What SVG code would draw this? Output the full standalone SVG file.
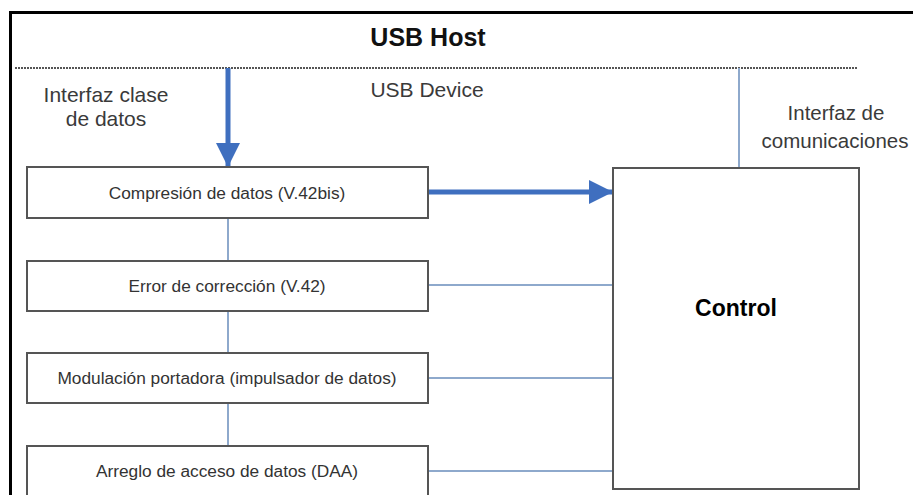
<svg xmlns="http://www.w3.org/2000/svg" width="913" height="495" viewBox="0 0 913 495">
  <style>
    .lbl { font-family: "Liberation Sans", Arial, sans-serif; fill: #3a3a3a; text-anchor: middle; }
    .box { fill: #ffffff; stroke: #555555; stroke-width: 2; }
    .boxtxt { font-family: "Liberation Sans", Arial, sans-serif; font-size: 17.3px; fill: #333333; text-anchor: middle; }
    .thin { stroke: #8ea9cc; stroke-width: 2; fill: none; }
    .thick { stroke: #3f6fbf; stroke-width: 5; fill: none; }
  </style>
  <defs>
    <marker id="bigArrow" viewBox="0 0 10 10" refX="10" refY="5" markerUnits="userSpaceOnUse" markerWidth="38" markerHeight="24" orient="auto">
      <path d="M0,0 L10,5 L0,10 Z" fill="#3f6fbf"/>
    </marker>
  </defs>

  <rect x="0" y="0" width="913" height="495" fill="#ffffff"/>
  <!-- outer frame (open to the right and bottom) -->
  <rect x="10.5" y="12.5" width="920" height="500" fill="none" stroke="#000000" stroke-width="3"/>

  <!-- host / device boundary -->
  <line x1="15" y1="68" x2="858" y2="68" stroke="#555555" stroke-width="2" stroke-dasharray="2 1"/>

  <text class="lbl" x="428" y="46" font-size="25" font-weight="bold" style="fill:#111111">USB Host</text>
  <text class="lbl" x="427" y="97" font-size="21">USB Device</text>
  <text class="lbl" x="106" y="102" font-size="21">Interfaz clase</text>
  <text class="lbl" x="106" y="126" font-size="21">de datos</text>
  <text class="lbl" x="836" y="120" font-size="20.5">Interfaz de</text>
  <text class="lbl" x="835" y="148" font-size="20.5">comunicaciones</text>

  <g id="connectors">
    <line class="thin" x1="228" y1="218" x2="228" y2="261"/>
    <line class="thin" x1="228" y1="311" x2="228" y2="353"/>
    <line class="thin" x1="228" y1="403" x2="228" y2="446"/>
    <line class="thin" x1="428" y1="285" x2="613" y2="285"/>
    <line class="thin" x1="428" y1="378" x2="613" y2="378"/>
    <line class="thin" x1="428" y1="471" x2="613" y2="471"/>
    <line class="thin" x1="739" y1="68" x2="739" y2="168" stroke-width="1.5"/>
    <line class="thick" x1="228" y1="68" x2="228" y2="167" marker-end="url(#bigArrow)"/>
    <line class="thick" x1="428" y1="192" x2="613" y2="192" marker-end="url(#bigArrow)"/>
  </g>

  <g id="compresion">
    <rect class="box" x="27" y="167" width="401" height="51"/>
    <text class="boxtxt" x="227" y="199">Compresión de datos (V.42bis)</text>
  </g>
  <g id="error">
    <rect class="box" x="27" y="261" width="401" height="50"/>
    <text class="boxtxt" x="227" y="292">Error de corrección (V.42)</text>
  </g>
  <g id="modulacion">
    <rect class="box" x="27" y="353" width="401" height="50"/>
    <text class="boxtxt" x="227" y="384">Modulación portadora (impulsador de datos)</text>
  </g>
  <g id="daa">
    <rect class="box" x="27" y="446" width="401" height="60"/>
    <text class="boxtxt" x="227" y="477">Arreglo de acceso de datos (DAA)</text>
  </g>
  <g id="control">
    <rect class="box" x="613" y="168" width="246" height="321"/>
    <text class="lbl" x="736" y="316" font-size="23" font-weight="bold" style="fill:#000000">Control</text>
  </g>
</svg>
